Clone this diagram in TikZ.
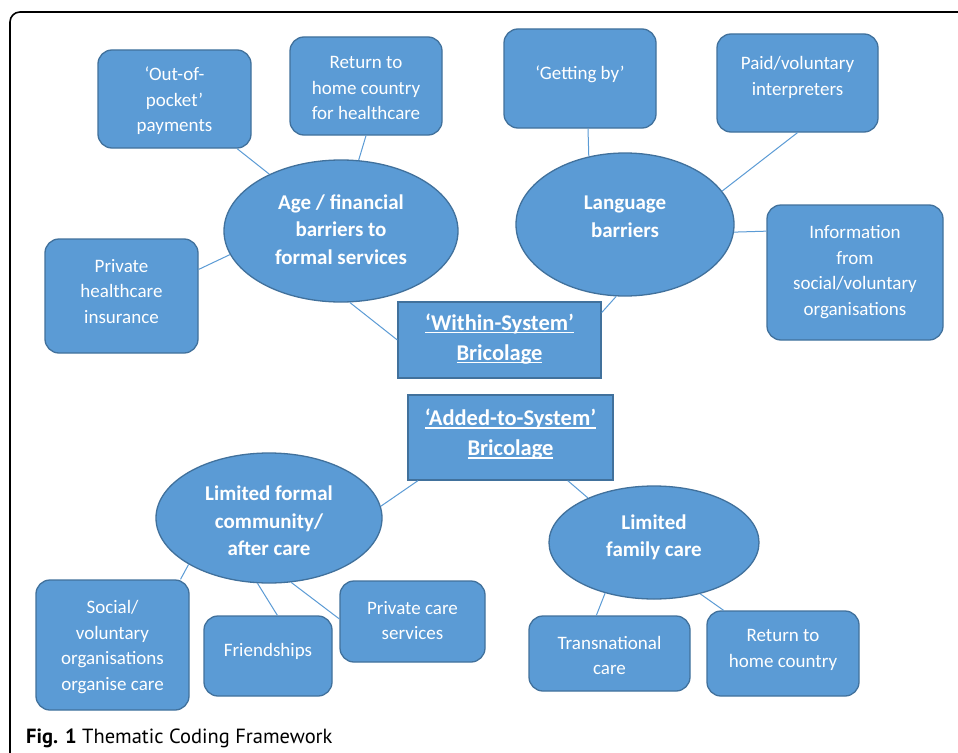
\documentclass[tikz,border=0pt]{standalone}
\usepackage{fontspec}
\setmainfont{Carlito}
\newfontfamily\capfont{PT Sans}
\usetikzlibrary{shapes.geometric}
\definecolor{blu}{HTML}{5B9BD5}
\definecolor{bord}{HTML}{41719C}
\newcommand\ulx[1]{\setbox0\hbox{#1}\rlap{\rule[-3pt]{\wd0}{1.5pt}}\box0}
\tikzset{
  box/.style={draw=bord, fill=blu, line width=1.3pt, rounded corners=14pt, inner sep=0pt},
  ell/.style={ellipse, draw=bord, fill=blu, line width=1.3pt, inner sep=0pt},
  sq/.style={draw=bord, fill=blu, line width=1.3pt, inner sep=0pt},
  t/.style={text=white, align=center, inner sep=0pt, yshift=-2pt, font=\fontsize{19}{25.5}\selectfont},
  bt/.style={text=white, align=center, inner sep=0pt, font=\bfseries\fontsize{21}{27.5}\selectfont},
  tt/.style={text=white, align=center, inner sep=0pt, font=\bfseries\fontsize{22.5}{30}\selectfont},
  link/.style={draw=blu, line width=1pt}
}
\begin{document}
\begin{tikzpicture}[x=1pt,y=-1pt]
\useasboundingbox (0,0) rectangle (958,752);
\fill[white] (0,0) rectangle (958,752);
\begin{scope}
\clip (0,0) rectangle (958,752);
\draw[black, line width=1.6pt, rounded corners=10pt] (1000,12) -- (10,12) -- (10,800);
\end{scope}

% upper group
\node[box, minimum width=153pt, minimum height=98pt,
  label={[t]center:{‘Out-of-\\pocket’\\payments}}] (oop) at (174.5,99) {};
\node[box, minimum width=152pt, minimum height=98pt,
  label={[t]center:{Return to\\home country\\for healthcare}}] (ret) at (366,86) {};
\node[box, minimum width=153pt, minimum height=114pt,
  label={[t,yshift=6.5pt]center:{Private\\healthcare\\insurance}}] (phi) at (121.5,296) {};
\node[ell, minimum width=234pt, minimum height=142pt,
  label={[bt,yshift=1.5pt]center:{Age / financial\\barriers to\\formal services}}] (age) at (341,231) {};

\node[box, minimum width=152pt, minimum height=99pt,
  label={[t,yshift=6pt]center:{‘Getting by’}}] (gb) at (580,78.5) {};
\node[box, minimum width=161pt, minimum height=98pt,
  label={[t,yshift=7.5pt]center:{Paid/voluntary\\interpreters}}] (pvi) at (797.5,83) {};
\node[ell, minimum width=218pt, minimum height=143pt,
  label={[bt,yshift=7.5pt]center:{Language\\barriers}}] (lang) at (625,224.5) {};
\node[box, minimum width=176pt, minimum height=135pt,
  label={[t,yshift=2.5pt]center:{Information\\from\\social/voluntary\\organisations}}] (info) at (855,272.5) {};

\node[sq, minimum width=203pt, minimum height=76pt,
  label={[tt,yshift=1pt]center:{\ulx{‘Within-System’}\\\ulx{Bricolage}}}] (win) at (499.5,340) {};
\node[sq, minimum width=205pt, minimum height=85pt,
  label={[tt,yshift=3pt]center:{\ulx{‘Added-to-System’}\\\ulx{Bricolage}}}] (add) at (510.5,437.5) {};

% lower group
\node[ell, minimum width=226pt, minimum height=130pt,
  label={[bt,yshift=-3pt]center:{Limited formal\\community/\\after care}}] (lfc) at (269,518) {};
\node[ell, minimum width=210pt, minimum height=113pt,
  label={[bt,yshift=5pt]center:{Limited\\family care}}] (lfam) at (654,542.5) {};
\node[box, minimum width=153pt, minimum height=130pt,
  label={[t]center:{Social/\\voluntary\\organisations\\organise care}}] (svo) at (112.5,645) {};
\node[box, minimum width=128pt, minimum height=80pt,
  label={[t,yshift=7pt]center:{Friendships}}] (fr) at (268,656) {};
\node[box, minimum width=145pt, minimum height=81pt,
  label={[t,yshift=3pt]center:{Private care\\services}}] (pcs) at (412.5,621.5) {};
\node[box, minimum width=161pt, minimum height=75pt,
  label={[t]center:{Transnational\\care}}] (tc) at (609.5,653.5) {};
\node[box, minimum width=152pt, minimum height=85pt,
  label={[t,yshift=5.5pt]center:{Return to\\home country}}] (rhc) at (783,653.5) {};

% connectors
\draw[link] (oop) -- (age);
\draw[link] (ret.south) -- (age.76);
\draw[link] (phi.19) -- (age.192);
\draw[link] (age.277) -- (win.west);
\draw[link] ([xshift=8pt]gb.south) -- (lang.118);
\draw[link] (pvi.south) -- (lang.19);
\draw[link] (lang.-4) -- (info.155);
\draw[link] (lang.263) -- (win.15);
\draw[link] (add.205) -- (lfc.6);
\draw[link] (add.-37) -- (lfam.146);
\draw[link] (lfc.210) -- (svo.44);
\draw[link] (lfc.260) -- (fr.77);
\draw[link] (lfc.-71) -- (pcs.178);
\draw[link] (lfam.226) -- (tc.109);
\draw[link] (lfam.-48) -- (rhc.144);

\node[anchor=base west, inner sep=0pt, font=\capfont\fontsize{20.5}{24}\selectfont] (cap) at (26,743) {\textbf{Fig. 1} Thematic Coding Framework};
\end{tikzpicture}
\end{document}
